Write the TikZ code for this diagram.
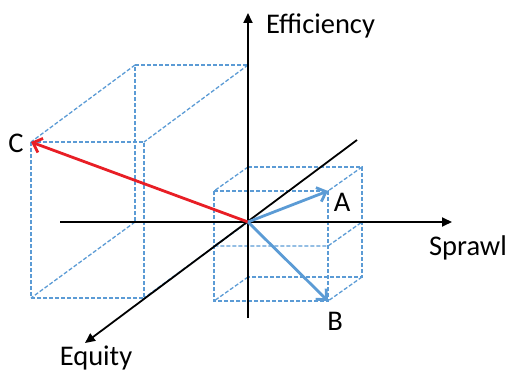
\documentclass[tikz,border=0pt]{standalone}
\usepackage{fontspec}
\setmainfont{Carlito}
\usetikzlibrary{arrows.meta}
\definecolor{boxblue}{RGB}{91,155,213}
\definecolor{vecred}{RGB}{232,30,37}
\begin{document}
\begin{tikzpicture}[x=1pt,y=-1pt,
  axis/.style={draw=black, line width=1.8pt, -{Triangle[length=10pt,width=9pt]}},
  boxline/.style={draw=boxblue, line width=1.3pt, dash pattern=on 4pt off 2pt},
  vec/.style={line width=2.8pt, -{Straight Barb[length=8pt,width=15pt,line width=2.8pt]}},
  lbl/.style={font=\fontsize{28.5}{34}\selectfont, inner sep=0pt}]
\useasboundingbox (0,0) rectangle (511,374);
% key points
\coordinate (O) at (248,222);
% big box (C)
\coordinate (b1) at (135,65);  \coordinate (b2) at (248,65);
\coordinate (b3) at (248,222); \coordinate (b4) at (135,222);
\coordinate (f1) at (31,142);  \coordinate (f2) at (144,142);
\coordinate (f3) at (144,298); \coordinate (f4) at (31,298);
\draw[boxline] (b1)--(b2)--(b3)--(b4)--cycle;
\draw[boxline] (f1)--(f2)--(f3)--(f4)--cycle;
\draw[boxline] (b1)--(f1) (b2)--(f2) (b3)--(f3) (b4)--(f4);
% small box (A,B)
\coordinate (s1) at (248,167); \coordinate (s2) at (362,167);
\coordinate (s3) at (362,277); \coordinate (s4) at (248,277);
\coordinate (t1) at (214,191); \coordinate (t2) at (328,191);
\coordinate (t3) at (328,301); \coordinate (t4) at (214,301);
\coordinate (m1) at (214,246); \coordinate (m2) at (328,246); \coordinate (m3) at (362,222);
\draw[boxline] (s1)--(s2)--(s3)--(s4)--cycle;
\draw[boxline] (t1)--(t2)--(t3)--(t4)--cycle;
\draw[boxline] (s1)--(t1) (s2)--(t2) (s3)--(t3) (s4)--(t4);
\draw[boxline] (O)--(m1)--(m2)--(m3);
% axes
\coordinate (vb) at (248,318); \coordinate (vt) at (248,13);
\coordinate (hl) at (60,222);  \coordinate (hr) at (452,222);
\coordinate (eb) at (357,140); \coordinate (ef) at (85,343);
\draw[axis] (vb)--(vt);
\draw[axis] (hl)--(hr);
\draw[axis] (eb)--(ef);
% vectors
\draw[vec, draw=vecred] (O)--(f1);
\draw[vec, draw=boxblue] (O)--(t2);
\draw[vec, draw=boxblue] (O)--(t3);
% labels
\node[lbl, anchor=west] (leff) at (266,26) {Efficiency};
\node[lbl] (lspr) at (468,248) {Sprawl};
\node[lbl] (lequ) at (96,358) {Equity};
\node[lbl] (lA) at (342,202) {A};
\node[lbl] (lB) at (335,321) {B};
\node[lbl] (lC) at (16,143) {C};
\end{tikzpicture}
\end{document}
